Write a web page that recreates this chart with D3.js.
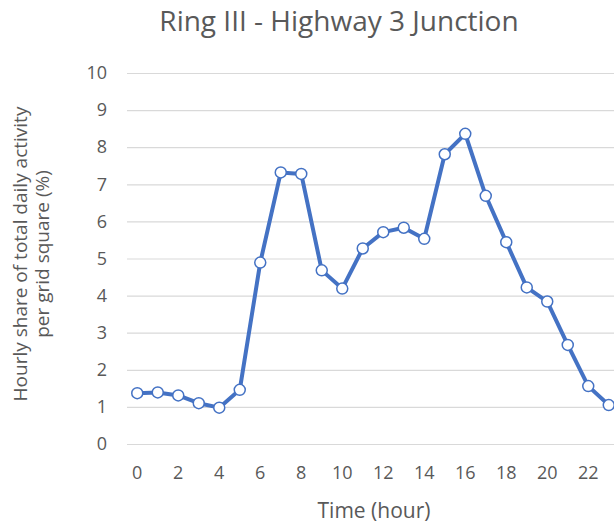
<!DOCTYPE html>
<html lang="en">
<head>
<meta charset="utf-8">
<title>Ring III - Highway 3 Junction</title>
<script src="https://d3js.org/d3.v7.min.js"></script>
<style>
  body { margin: 0; background: #fff; }
  text { font-family: "Open Sans", "Noto Sans", sans-serif; fill: #595959; }
</style>
</head>
<body>
<svg width="614" height="526"></svg>
<script>
// hours of the day and hourly share (%)
var hours = d3.range(0, 24)
var share = [1.37, 1.39, 1.31, 1.10, 0.98, 1.46, 4.89, 7.32, 7.28, 4.68, 4.19, 5.27,
             5.71, 5.83, 5.53, 7.81, 8.36, 6.69, 5.44, 4.22, 3.84, 2.67, 1.56, 1.05]
var yTicks = [0, 1, 2, 3, 4, 5, 6, 7, 8, 9, 10]
var xTickLabels = [0, 2, 4, 6, 8, 10, 12, 14, 16, 18, 20, 22]

var svg = d3.select("svg")
var plotLeft = 127, plotRight = 619, plotTop = 73, plotBottom = 444

var x = d3.scaleBand().domain(hours).range([plotLeft, plotRight])
var y = d3.scaleLinear().domain([0, 10]).range([plotBottom, plotTop])

// gridlines + y labels
svg.append("g")
  .attr("transform", "translate(" + plotLeft + ",0)")
  .call(d3.axisLeft(y).tickValues(yTicks).tickSize(-(plotRight - plotLeft)).tickFormat(d3.format("d")).tickPadding(20))
  .call(g => g.select(".domain").remove())
  .call(g => g.selectAll("line").attr("stroke", "#d9d9d9").attr("stroke-width", 1.2))
  .call(g => g.selectAll("text").style("font-size", "18px").attr("fill", "#595959").attr("font-family", null))

// x axis labels
svg.append("g")
  .attr("transform", "translate(0," + plotBottom + ")")
  .call(d3.axisBottom(x).tickValues(xTickLabels).tickSize(0).tickPadding(22))
  .call(g => g.select(".domain").remove())
  .call(g => g.selectAll("text").style("font-size", "18px").attr("fill", "#595959").attr("font-family", null))

// line
var line = d3.line()
  .x(function (d, i) { return x(hours[i]) + x.bandwidth() / 2 })
  .y(function (d) { return y(d) })

svg.append("path")
  .datum(share)
  .attr("d", line)
  .attr("fill", "none")
  .attr("stroke", "#4472c4")
  .attr("stroke-width", 4)
  .attr("stroke-linejoin", "round")

svg.selectAll("circle")
  .data(share)
  .enter()
  .append("circle")
  .attr("cx", function (d, i) { return x(hours[i]) + x.bandwidth() / 2 })
  .attr("cy", function (d) { return y(d) })
  .attr("r", 5.5)
  .attr("fill", "#fff")
  .attr("stroke", "#4472c4")
  .attr("stroke-width", 1.5)

// title
svg.append("text")
  .attr("x", 339).attr("y", 31)
  .attr("text-anchor", "middle")
  .style("font-size", "28px")
  .text("Ring III - Highway 3 Junction")

// axis titles
var yt = svg.append("text")
  .attr("transform", "translate(0,254) rotate(-90)")
  .attr("text-anchor", "middle")
  .style("font-size", "19px")
yt.append("tspan").attr("x", 0).attr("y", 27).text("Hourly share of total daily activity")
yt.append("tspan").attr("x", 0).attr("y", 49).text("per grid square (%)")

svg.append("text")
  .attr("x", 374).attr("y", 518)
  .attr("text-anchor", "middle")
  .style("font-size", "21px")
  .text("Time (hour)")
</script>
</body>
</html>
